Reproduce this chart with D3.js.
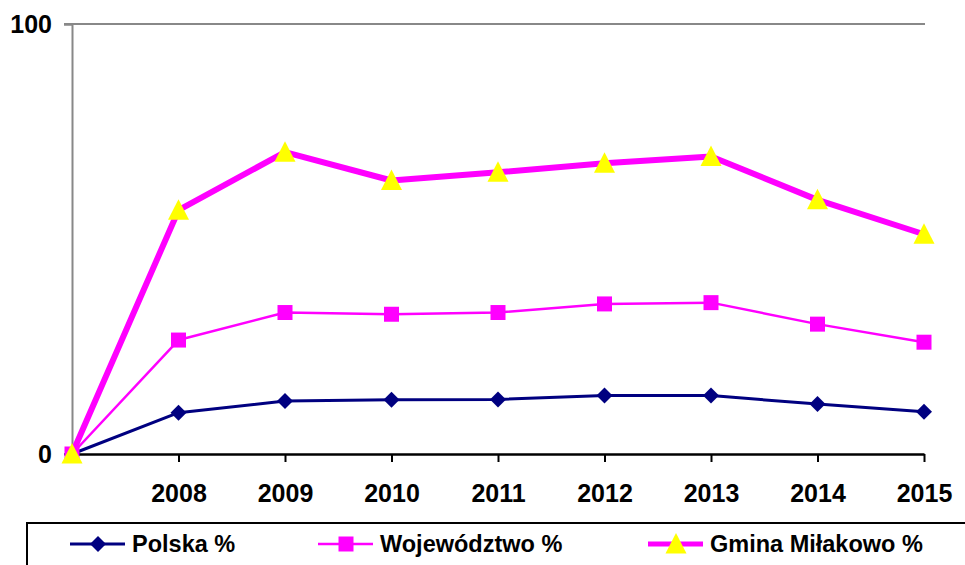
<!DOCTYPE html>
<html><head><meta charset="utf-8">
<script src="https://cdn.jsdelivr.net/npm/d3@7/dist/d3.min.js"></script>
<style>body{margin:0;background:#fff}svg{display:block;font-family:Arial,"Liberation Sans",sans-serif}</style>
</head><body>
<svg id="c" width="965" height="565"></svg>
<script>
const categories = ["", "2008", "2009", "2010", "2011", "2012", "2013", "2014", "2015"];
const polska = [0, 9.6, 12.3, 12.6, 12.7, 13.6, 13.6, 11.6, 9.8];
const wojewodztwo = [0, 26.5, 32.9, 32.5, 32.9, 34.9, 35.2, 30.2, 26.0];
const gmina = [0, 56.7, 70.2, 63.6, 65.5, 67.6, 69.2, 59.1, 51.1];
const yTicks = [0, 100];
const seriesNames = ["Polska %", "Województwo %", "Gmina Miłakowo %"];

const svg = d3.select("#c");
const x = d3.scalePoint().domain(categories.map((c,i)=>i)).range([72, 924]);
const y = d3.scaleLinear().domain([0, 100]).range([454, 24]);

// gridlines
svg.append("g").selectAll("line").data(yTicks.filter(t=>t>0)).join("line")
  .attr("x1", 64).attr("x2", 925).attr("y1", d=>y(d)).attr("y2", d=>y(d))
  .attr("stroke", "#888").attr("stroke-width", 2);

// y axis
const yAxis = svg.append("g").attr("transform","translate(72,0)")
  .call(d3.axisLeft(y).tickValues(yTicks).tickSize(8).tickPadding(12).tickFormat(d3.format("d")));
yAxis.select(".domain").attr("stroke","#888").attr("stroke-width",2);
yAxis.selectAll(".tick line").attr("stroke","#888").attr("stroke-width",2);
yAxis.selectAll("text").attr("font-size",25).attr("font-weight","bold").attr("fill","#000").attr("font-family","Arial, 'Liberation Sans', sans-serif");

// x axis
const xAxis = svg.append("g").attr("transform","translate(0,454)")
  .call(d3.axisBottom(x).tickSize(8).tickSizeOuter(0).tickPadding(22).tickFormat(i=>categories[i]));
xAxis.select(".domain").attr("stroke","#000").attr("stroke-width",2.5);
xAxis.selectAll(".tick line").attr("stroke","#000").attr("stroke-width",2);
xAxis.selectAll("text").attr("font-size",25).attr("font-weight","bold").attr("fill","#000").attr("font-family","Arial, 'Liberation Sans', sans-serif");

const line = d3.line().x((d,i)=>x(i)).y(d=>y(d));

const series = [
  {name: seriesNames[0], data: polska, color: "#000080", width: 3, marker: "diamond", fill: "#000080"},
  {name: seriesNames[1], data: wojewodztwo, color: "#FF00FF", width: 2.5, marker: "square", fill: "#FF00FF"},
  {name: seriesNames[2], data: gmina, color: "#FF00FF", width: 6, marker: "triangle", fill: "#FFFF00"}
];

function markerPath(type){
  if(type==="diamond") return "M0,-8L8,0L0,8L-8,0Z";
  if(type==="square") return "M-7.5,-7.5H7.5V7.5H-7.5Z";
  return "M0,-11L10.5,9.5L-10.5,9.5Z";
}

series.forEach(s=>{
  svg.append("path").datum(s.data).attr("d", line).attr("fill","none")
    .attr("stroke", s.color).attr("stroke-width", s.width).attr("stroke-linejoin","round");
  svg.append("g").selectAll("path").data(s.data).join("path")
    .attr("d", markerPath(s.marker))
    .attr("transform",(d,i)=>`translate(${x(i)},${y(d)})`)
    .attr("fill", s.fill);
});

// legend
svg.append("rect").attr("x",27).attr("y",523).attr("width",960).attr("height",60)
  .attr("fill","#fff").attr("stroke","#000").attr("stroke-width",2);
const legX = [70, 318, 648];
series.forEach((s,i)=>{
  const g = svg.append("g").attr("transform",`translate(${legX[i]},544)`);
  g.append("line").attr("x1",0).attr("x2",55).attr("stroke",s.color).attr("stroke-width",s.width===6?5:s.width);
  g.append("path").attr("d",markerPath(s.marker)).attr("transform","translate(28,0)").attr("fill",s.fill);
  g.append("text").attr("x",62).attr("y",0).attr("dy","0.35em").attr("font-size",23.5).attr("font-weight","bold").text(s.name);
});
</script>
</body></html>
